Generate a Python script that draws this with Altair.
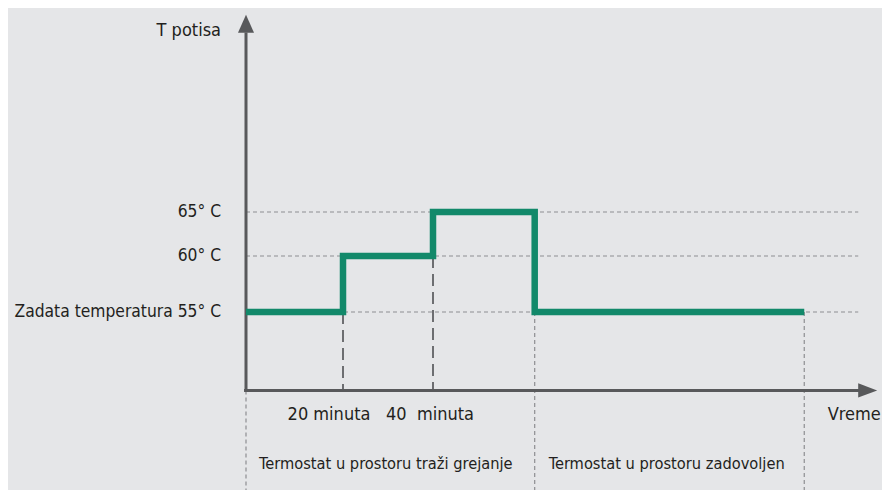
import altair as alt
import pandas as pd

# ---- data (schematic time in minutes, temperature in °C) ----
step_times = [0, 20, 40, 62.6, 122.5]
step_temps = [55, 60, 65, 55, 55]

level_temps = [55, 60, 65]
level_labels = ["Zadata temperatura 55° C", "60° C", "65° C"]

switch_times = [20, 40]          # dashed markers of the heating steps
switch_tops = [55, 60]
switch_labels = ["20 minuta", "40\u00a0 minuta"]

phase_times = [0, 62.6, 122.5]    # dotted phase borders
phase_tops = [48, 55, 55]
phase_labels = ["Termostat u prostoru traži grejanje", "Termostat u prostoru zadovoljen"]

axis_y_base = 48      # temperature where the time axis sits
axis_y_top = 86.4     # top of temperature axis arrow
axis_x_end = 136.6    # end of time axis arrow
grid_x_end = 134.5
bottom_temp = 38
row1_temp = 45.8
row2_temp = 41.4
ytitle_temp = 85.6

FONT = "Liberation Sans Narrow, DejaVu Sans Condensed, Roboto Condensed, sans-serif"
GREEN = "#12896a"
AXIS = "#58595b"
TEXT = "#231f20"

xs = alt.Scale(domain=[0, 20, 40], range=[238, 335, 425], nice=False, zero=False)
ys = alt.Scale(domain=[55, 60, 65], range=[304, 248, 204], nice=False, zero=False)


def X(f="x"):
    return alt.X(f"{f}:Q", scale=xs, axis=None)


def Y(f="y"):
    return alt.Y(f"{f}:Q", scale=ys, axis=None)


grid_df = pd.DataFrame({"y": level_temps, "x": [0] * 3, "x2": [grid_x_end] * 3})
grid = alt.Chart(grid_df).mark_rule(color="#8d8e91", strokeWidth=1.2, strokeDash=[4, 3]).encode(
    x=X(), x2="x2:Q", y=Y()
)

sw_df = pd.DataFrame({"x": switch_times, "y": switch_tops, "y2": [axis_y_base] * 2})
switches = alt.Chart(sw_df).mark_rule(color="#6d6e71", strokeWidth=2, strokeDash=[12, 6]).encode(
    x=X(), y=Y(), y2="y2:Q"
)

ph_df = pd.DataFrame({"x": phase_times, "y": phase_tops, "y2": [bottom_temp] * 3})
phases = alt.Chart(ph_df).mark_rule(color="#8d8e91", strokeWidth=1.2, strokeDash=[4, 3]).encode(
    x=X(), y=Y(), y2="y2:Q"
)

yaxis_df = pd.DataFrame({"x": [0], "y": [axis_y_base], "y2": [axis_y_top - 1]})
yaxis = alt.Chart(yaxis_df).mark_rule(color=AXIS, strokeWidth=3).encode(x=X(), y=Y(), y2="y2:Q")

xaxis_df = pd.DataFrame({"x": [-0.4], "x2": [axis_x_end - 1], "y": [axis_y_base]})
xaxis = alt.Chart(xaxis_df).mark_rule(color=AXIS, strokeWidth=3).encode(x=X(), x2="x2:Q", y=Y())

up_df = pd.DataFrame({"x": [0], "y": [axis_y_top]})
up_arrow = alt.Chart(up_df).mark_point(
    shape="M0,-1L0.89,1L-0.89,1Z", size=324, filled=True, opacity=1, color=AXIS
).encode(x=X(), y=Y())

right_df = pd.DataFrame({"x": [axis_x_end], "y": [axis_y_base]})
right_arrow = alt.Chart(right_df).mark_point(
    shape="M1,0L-1,0.74L-1,-0.74Z", size=361, filled=True, opacity=1, color=AXIS
).encode(x=X(), y=Y())

step_df = pd.DataFrame({"x": step_times, "y": step_temps})
steps = alt.Chart(step_df).mark_line(
    color=GREEN, strokeWidth=6.5, interpolate="step-after", strokeJoin="miter", strokeCap="butt"
).encode(x=X(), y=Y())

lvl_df = pd.DataFrame({"x": [0] * 3, "y": level_temps, "t": level_labels})
lvl_text = alt.Chart(lvl_df).mark_text(
    align="right", baseline="middle", dx=-25, font=FONT, fontSize=17.3, color=TEXT
).encode(x=X(), y=Y(), text="t:N")

ytitle = alt.Chart(pd.DataFrame({"x": [0], "y": [ytitle_temp], "t": ["T potisa"]})).mark_text(
    align="right", baseline="middle", dx=-25, font=FONT, fontSize=18, color=TEXT
).encode(x=X(), y=Y(), text="t:N")

min_df = pd.DataFrame({"x": switch_times, "y": [row1_temp] * 2, "t": switch_labels})
min_text = alt.layer(*[
    alt.Chart(min_df.iloc[[i]]).mark_text(
        align="center", baseline="middle", dx=dx, font=FONT, fontSize=18, color=TEXT
    ).encode(x=X(), y=Y(), text="t:N")
    for i, dx in enumerate([-14, -3])
])

xtitle = alt.Chart(pd.DataFrame({"x": [axis_x_end], "y": [row1_temp], "t": ["Vreme"]})).mark_text(
    align="right", baseline="middle", dx=13, font=FONT, fontSize=18, color=TEXT
).encode(x=X(), y=Y(), text="t:N")

ph_text_df = pd.DataFrame({"x": phase_times[:2], "y": [row2_temp] * 2, "t": phase_labels})
ph_text = alt.layer(*[
    alt.Chart(ph_text_df.iloc[[i]]).mark_text(
        align="left", baseline="middle", dx=dx, font=FONT, fontSize=16.3, color=TEXT
    ).encode(x=X(), y=Y(), text="t:N")
    for i, dx in enumerate([13, 14])
])

chart = alt.layer(
    grid, phases, switches, xaxis, yaxis, up_arrow, right_arrow, steps,
    lvl_text, ytitle, min_text, xtitle, ph_text
).properties(
    width=874, height=482, autosize=alt.AutoSizeParams(type="none"), padding=0,
    background="#e5e6e8"
).configure_view(stroke=None)

chart.save("out.html", embed_options={"renderer": "svg", "actions": False})
